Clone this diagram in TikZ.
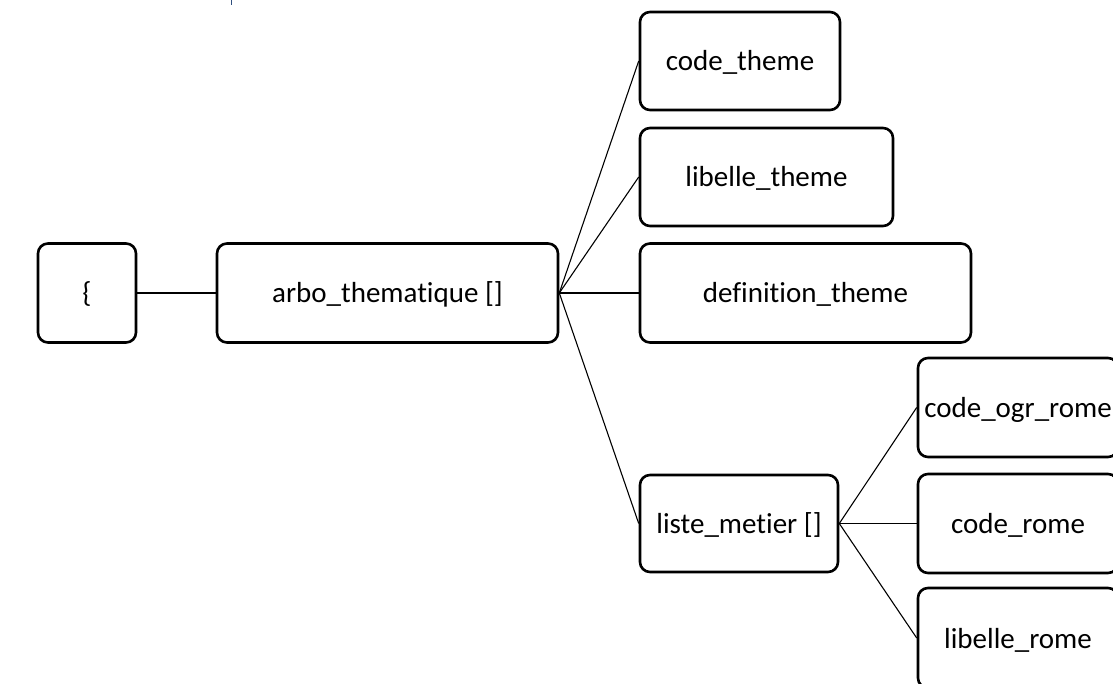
\documentclass[tikz,border=0pt]{standalone}
\usepackage{fontspec}
\setmainfont{Carlito}[Ligatures=NoCommon]
\begin{document}
\begin{tikzpicture}[x=1pt,y=-1pt,
  box/.style={draw=black, line width=2.6pt, rounded corners=10pt, inner sep=0pt,
    font=\fontsize{29}{34}\selectfont, text height=20pt, text depth=0pt},
  link/.style={draw=black, line width=1.1pt}]
\useasboundingbox (0,0) rectangle (1113,684);
\draw[color={rgb,255:red,47;green,79;blue,127}, line width=1.4pt] (231.5,0) -- (231.5,5);
\node[box, minimum width=98pt, minimum height=99pt] (brace) at (87,293) {\{};
\node[box, minimum width=341pt, minimum height=99pt] (arbo) at (387.5,293) {arbo\_thematique []};
\node[box, minimum width=200pt, minimum height=98pt] (ct) at (740,61) {code\_theme};
\node[box, minimum width=253pt, minimum height=98pt] (lt) at (766.5,177) {libelle\_theme};
\node[box, minimum width=331pt, minimum height=99pt] (dt) at (805.5,293) {definition\_theme};
\node[box, minimum width=198pt, minimum height=97pt] (lm) at (739,523.5) {liste\_metier []};
\node[box, minimum width=200pt, minimum height=99pt] (cor) at (1018,407.5) {code\_ogr\_rome};
\node[box, minimum width=200pt, minimum height=99pt] (cr) at (1018,523.5) {code\_rome};
\node[box, minimum width=200pt, minimum height=100pt] (lr) at (1018,638) {libelle\_rome};
\draw[link] (brace.east) -- (arbo.west);
\draw[link] (arbo.east) -- (ct.west);
\draw[link] (arbo.east) -- (lt.west);
\draw[link] (arbo.east) -- (dt.west);
\draw[link] (arbo.east) -- (lm.west);
\draw[link] (lm.east) -- (cor.west);
\draw[link] (lm.east) -- (cr.west);
\draw[link] (lm.east) -- (lr.west);
\end{tikzpicture}
\end{document}
